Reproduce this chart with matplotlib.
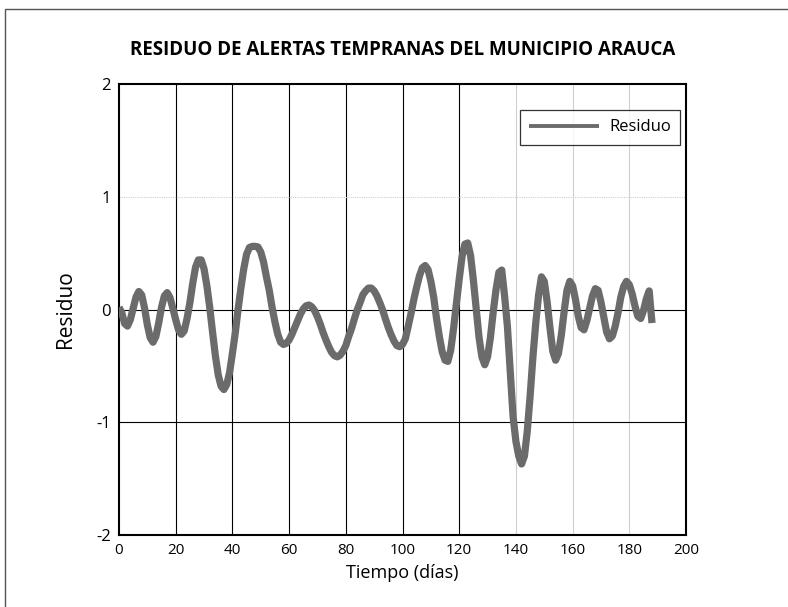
import matplotlib
matplotlib.use("Agg")
import matplotlib.pyplot as plt
from matplotlib.patches import Rectangle

plt.rcParams['axes.unicode_minus'] = False

title = "RESIDUO DE ALERTAS TEMPRANAS DEL MUNICIPIO ARAUCA"
xlabel = "Tiempo (días)"
ylabel = "Residuo"
legend_label = "Residuo"

x_ticks = [0, 20, 40, 60, 80, 100, 120, 140, 160, 180, 200]
y_ticks = [-2, -1, 0, 1, 2]

dias = list(range(0, 189))
residuo = [
    0.02, -0.03, -0.125, -0.147, -0.09, 0.01, 0.11, 0.16, 0.13, 0.015,
    -0.135, -0.25, -0.29, -0.24, -0.12, 0.02, 0.12, 0.15, 0.105, 0.01,
    -0.09, -0.18, -0.22, -0.19, -0.08, 0.06, 0.23, 0.375, 0.44, 0.44,
    0.36, 0.21, 0.02, -0.20, -0.41, -0.58, -0.68, -0.71, -0.665, -0.56,
    -0.39, -0.21, 0.0, 0.19, 0.36, 0.49, 0.55, 0.56, 0.56, 0.555,
    0.51, 0.42, 0.29, 0.17, 0.02, -0.11, -0.22, -0.29, -0.31, -0.30,
    -0.27, -0.22, -0.16, -0.10, -0.04, 0.005, 0.033, 0.04, 0.024, -0.01,
    -0.065, -0.13, -0.205, -0.27, -0.33, -0.38, -0.41, -0.42, -0.405, -0.37,
    -0.32, -0.24, -0.17, -0.085, -0.005, 0.06, 0.13, 0.165, 0.19, 0.19,
    0.165, 0.12, 0.06, -0.005, -0.085, -0.16, -0.225, -0.28, -0.32, -0.33,
    -0.31, -0.26, -0.15, -0.035, 0.09, 0.20, 0.30, 0.37, 0.39, 0.355,
    0.25, 0.11, -0.08, -0.24, -0.375, -0.45, -0.46, -0.36, -0.17, 0.05,
    0.27, 0.47, 0.58, 0.59, 0.48, 0.26, 0.0, -0.25, -0.42, -0.49,
    -0.42, -0.25, -0.02, 0.18, 0.33, 0.35, 0.12, -0.15, -0.55, -0.95,
    -1.17, -1.30, -1.37, -1.30, -1.08, -0.77, -0.42, -0.12, 0.13, 0.29,
    0.25, 0.07, -0.16, -0.37, -0.45, -0.39, -0.23, -0.02, 0.17, 0.25,
    0.21, 0.09, -0.06, -0.16, -0.18, -0.10, 0.01, 0.12, 0.185, 0.17,
    0.065, -0.07, -0.20, -0.26, -0.235, -0.15, -0.03, 0.11, 0.205, 0.25,
    0.22, 0.14, 0.03, -0.06, -0.08, -0.01, 0.095, 0.165, -0.12,
]

dark_vlines = [20, 40, 60, 80, 100, 120]
light_vlines = [140, 160, 180]
dark_hlines = [0, -1]
light_hlines = [1]

font = ['Liberation Sans Narrow', 'Open Sans', 'DejaVu Sans']

fig = plt.figure(figsize=(7.88, 6.07), dpi=100)
ax = fig.add_axes([0.151, 0.1186, 0.7196, 0.743])

for v in dark_vlines:
    ax.axvline(v, color='black', lw=0.8, zorder=1)
for v in light_vlines:
    ax.axvline(v, color='#d0d0d0', lw=0.8, zorder=1)
for h in dark_hlines:
    ax.axhline(h, color='black', lw=0.8, zorder=1)
for h in light_hlines:
    ax.axhline(h, color='#d0d0d0', lw=0.8, ls=(0, (1, 1)), zorder=1)

ax.plot(dias, residuo, color='#6b6b6b', lw=5.2, solid_capstyle='butt',
        label=legend_label, zorder=3)

ax.set_xlim(0, 200)
ax.set_ylim(-2, 2)
ax.set_xticks(x_ticks)
ax.set_yticks(y_ticks)
ax.set_xticklabels([str(t) for t in x_ticks], family=font, fontsize=11)
ax.set_yticklabels([str(t) for t in y_ticks], family=font, fontsize=12)
ax.tick_params(direction='in', length=0, width=0.8, pad=6)
for s in ax.spines.values():
    s.set_linewidth(1.5)
    s.set_color('black')

ax.set_xlabel(xlabel, family=font, fontsize=13, labelpad=4)
ax.set_ylabel(ylabel, family=font, fontsize=15, labelpad=14)
ax.set_title(title, family=font, fontsize=13.5, fontweight='bold', pad=21)

leg = ax.legend(loc='upper right', bbox_to_anchor=(0.989, 0.942), borderaxespad=0,
                frameon=True, fancybox=False, edgecolor='black',
                prop={'family': font, 'size': 12},
                handlelength=4.2, borderpad=0.55, handletextpad=0.6)
leg.get_frame().set_linewidth(0.9)
for ln in leg.get_lines():
    ln.set_linewidth(2.8)

fig.add_artist(Rectangle((5 / 788, -0.05), 1.2, 1 - 9 / 607 + 0.05,
                         transform=fig.transFigure, fill=False,
                         edgecolor='#555555', lw=1.0))

fig.savefig("out.png", dpi=100)
